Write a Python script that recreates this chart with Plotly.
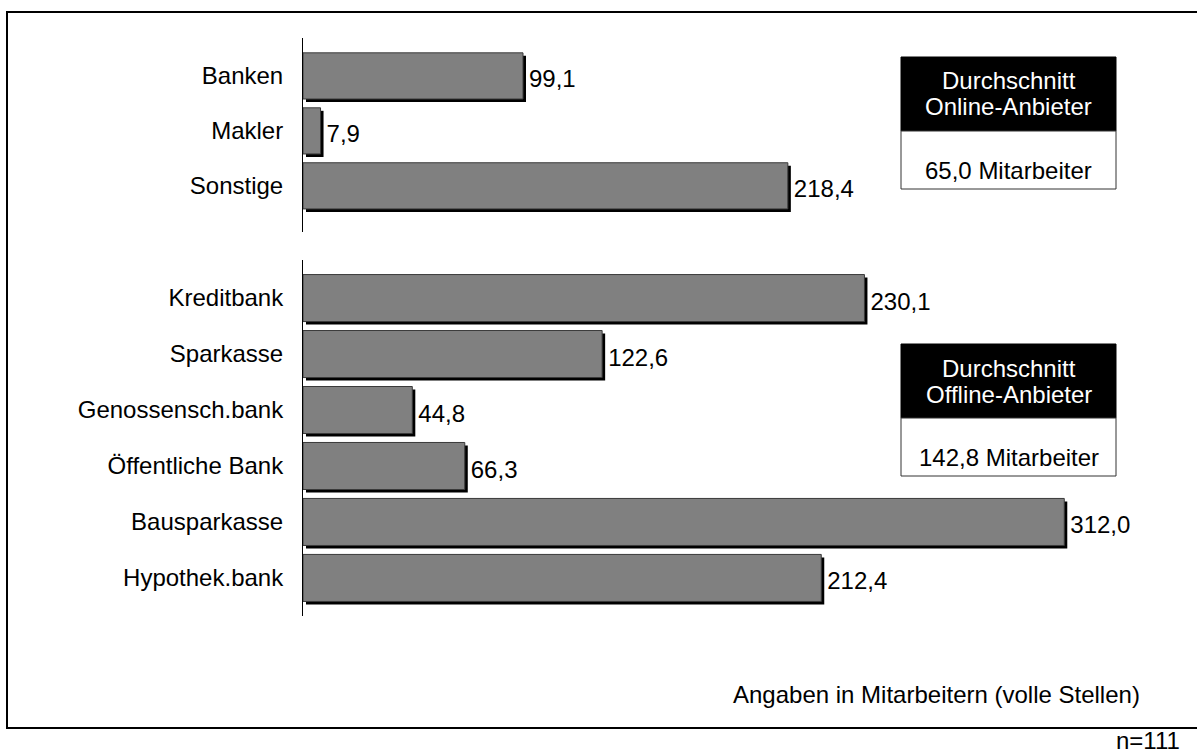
import plotly.graph_objects as go

W, H = 1197, 756

# Online-Anbieter
online_labels = ["Banken", "Makler", "Sonstige"]
online_values = [99.1, 7.9, 218.4]

# Offline-Anbieter
offline_labels = ["Kreditbank", "Sparkasse", "Genossensch.bank",
                  "Öffentliche Bank", "Bausparkasse", "Hypothek.bank"]
offline_values = [230.1, 122.6, 44.8, 66.3, 312.0, 212.4]

avg_online = 65.0
avg_offline = 142.8
n_total = 111

FONT = "Liberation Sans, Arial, sans-serif"
FS = 24
BAR_W = 0.84


def px(x):
    return x / W


def py(y):
    return 1 - y / H


def de(v):
    return f"{v:.1f}".replace(".", ",")


fig = go.Figure()


def add_group(labels, values, xa, ya, dx, dy):
    # black drop shadow behind each bar, carrying the value label
    fig.add_trace(go.Bar(
        y=labels, x=values, base=dx, orientation="h",
        width=BAR_W, offset=-BAR_W / 2 + dy,
        marker=dict(color="black", line=dict(width=0)),
        text=[de(v) for v in values], textposition="outside",
        textfont=dict(size=FS, color="black", family=FONT),
        cliponaxis=False, xaxis=xa, yaxis=ya, hoverinfo="skip",
        showlegend=False,
    ))
    fig.add_trace(go.Bar(
        y=labels, x=values, orientation="h",
        width=BAR_W, offset=-BAR_W / 2,
        marker=dict(color="#808080", line=dict(color="#3a3a3a", width=1)),
        xaxis=xa, yaxis=ya, showlegend=False,
    ))


add_group(online_labels, online_values, "x", "y", 1.35, 0.055)
add_group(offline_labels, offline_values, "x2", "y2", 1.23, 0.054)

xdom = [px(303), px(1100)]
yax_common = dict(
    type="category", showline=True, linecolor="black", linewidth=1,
    ticks="", showgrid=False, zeroline=False, ticklabelstandoff=14,
    tickfont=dict(size=FS, color="black", family=FONT), automargin=False,
)
xax_common = dict(visible=False, showgrid=False, zeroline=False)

fig.update_layout(
    width=W, height=H,
    margin=dict(l=0, r=0, t=0, b=0),
    paper_bgcolor="white", plot_bgcolor="white",
    barmode="overlay",
    uniformtext=dict(minsize=FS, mode="show"),
    font=dict(family=FONT, size=FS, color="black"),
    xaxis=dict(domain=xdom, range=[0, 797 / 2.22], anchor="y", **xax_common),
    yaxis=dict(domain=[py(232), py(38)], range=[2.84, -0.69],
               categoryarray=online_labels, anchor="x", **yax_common),
    xaxis2=dict(domain=xdom, range=[0, 797 / 2.44], anchor="y2", **xax_common),
    yaxis2=dict(domain=[py(616), py(260)], range=[5.68, -0.68],
                categoryarray=offline_labels, anchor="x2", **yax_common),
)

shapes = [
    # outer frame
    dict(type="rect", xref="paper", yref="paper",
         x0=px(7), x1=px(1200), y0=py(728), y1=py(12),
         line=dict(color="black", width=2), fillcolor="rgba(0,0,0,0)"),
]
annotations = []


def label(x, y, text, color="black", anchor="center"):
    annotations.append(dict(
        xref="paper", yref="paper", x=px(x), y=py(y), text=text,
        showarrow=False, font=dict(size=FS, color=color, family=FONT),
        xanchor=anchor, yanchor="middle"))


def info_box(top, head, value_text):
    left, right = 901, 1116
    mid = top + 74
    bottom = mid + 58
    cx = (left + right) / 2
    shapes.append(dict(type="rect", xref="paper", yref="paper",
                       x0=px(left), x1=px(right), y0=py(mid), y1=py(top),
                       fillcolor="black", line=dict(color="black", width=1)))
    shapes.append(dict(type="rect", xref="paper", yref="paper",
                       x0=px(left), x1=px(right), y0=py(bottom), y1=py(mid),
                       fillcolor="white", line=dict(color="#333333", width=1)))
    label(cx, top + 24, "Durchschnitt", "white")
    label(cx, top + 50, head, "white")
    label(cx, mid + 39, value_text)


info_box(57, "Online-Anbieter", f"{de(avg_online)} Mitarbeiter")
info_box(344, "Offline-Anbieter", f"{de(avg_offline)} Mitarbeiter")

label(1142, 694, "Angaben in Mitarbeitern (volle Stellen)", anchor="right")
label(1182, 740, f"n={n_total}", anchor="right")

fig.update_layout(shapes=shapes, annotations=annotations)

fig.write_html("out.html")
